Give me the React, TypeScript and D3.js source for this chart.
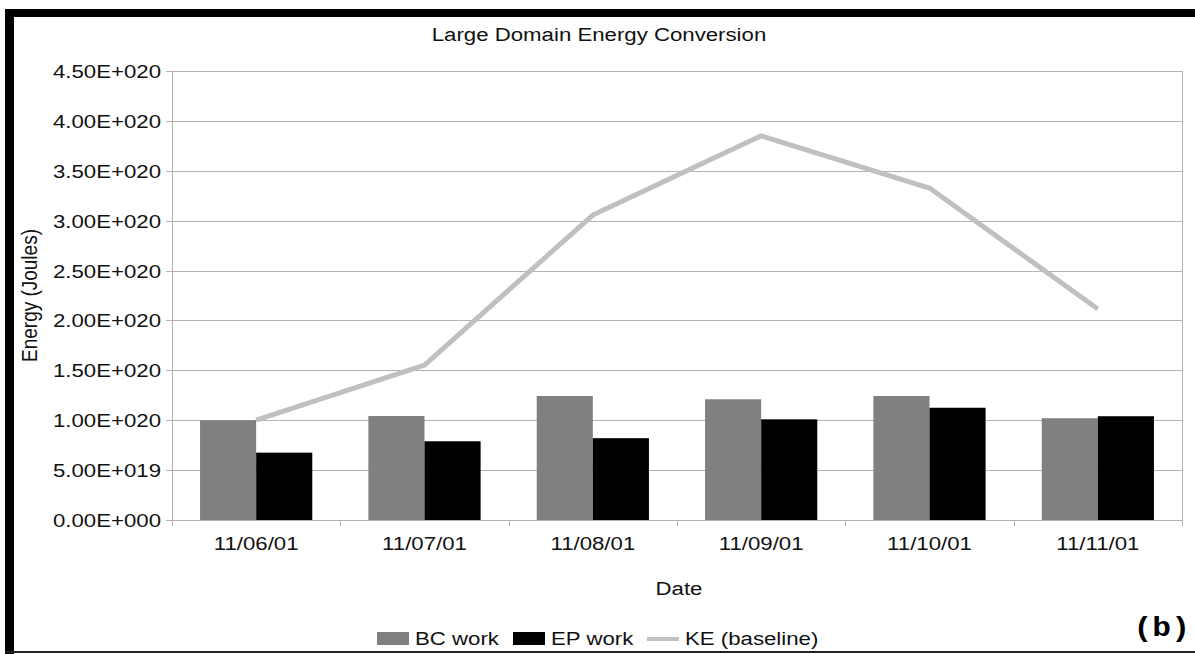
import React, { useRef, useEffect } from 'react';
import * as d3 from 'd3';

// chart data
const dates = ['11/06/01', '11/07/01', '11/08/01', '11/09/01', '11/10/01', '11/11/01'];
const bcWork = [1.0e20, 1.042e20, 1.243e20, 1.21e20, 1.243e20, 1.02e20];
const epWork = [0.675e20, 0.789e20, 0.82e20, 1.009e20, 1.125e20, 1.04e20];
const keBaseline = [1.0e20, 1.553e20, 3.056e20, 3.85e20, 3.327e20, 2.115e20];
const seriesNames = ['BC work', 'EP work', 'KE (baseline)'];
const yTicks = [0, 0.5e20, 1e20, 1.5e20, 2e20, 2.5e20, 3e20, 3.5e20, 4e20, 4.5e20];

const WIDTH = 1195;
const HEIGHT = 654;
const FONT = '"Liberation Sans", Arial, sans-serif';
const SX = 1.17; // the reference text is stretched sideways

// 4.50E+020 style
const sciFormat = (v: number) => {
    const [m, e] = v.toExponential(2).split('e');
    const sign = e[0] === '-' ? '-' : '+';
    const digits = e.replace(/[+-]/, '').padStart(3, '0');
    return `${m}E${sign}${digits}`;
};

export default function App() {
    const ref = useRef<SVGSVGElement>(null);

    useEffect(() => {
        const svg = d3.select(ref.current);
        svg.selectAll('*').remove();

        const left = 172, right = 1182, top = 71, bottom = 520;

        const x = d3.scaleBand<string>()
            .domain(dates)
            .range([left, right])
            .paddingInner(1 / 3)
            .paddingOuter(1 / 6);
        const xSeries = d3.scaleBand<string>()
            .domain(['bc', 'ep'])
            .range([0, x.bandwidth()]);
        const y = d3.scaleLinear()
            .domain([0, 4.5e20])
            .range([bottom, top]);

        const stretchedText = (g: any, tx: number, ty: number, txt: string, size: number, anchor: string) =>
            g.append('text')
                .attr('transform', `translate(${tx},${ty}) scale(${SX},1)`)
                .attr('text-anchor', anchor)
                .style('font-family', FONT)
                .style('font-size', size + 'px')
                .style('fill', '#111')
                .text(txt);

        // frame around the whole picture
        svg.append('rect').attr('x', 0).attr('y', 0).attr('width', WIDTH).attr('height', HEIGHT).attr('fill', '#fff');
        svg.append('rect').attr('x', 5).attr('y', 9).attr('width', WIDTH - 5).attr('height', 8).attr('fill', '#000');
        svg.append('rect').attr('x', 5).attr('y', 9).attr('width', 9).attr('height', HEIGHT - 9).attr('fill', '#000');
        svg.append('rect').attr('x', 5).attr('y', 651).attr('width', WIDTH - 5).attr('height', 2).attr('fill', '#222');

        // grid lines
        svg.append('g')
            .selectAll('line')
            .data(yTicks)
            .enter()
            .append('line')
            .attr('x1', left - 6)
            .attr('x2', right)
            .attr('y1', d => Math.round(y(d)) + 0.5)
            .attr('y2', d => Math.round(y(d)) + 0.5)
            .attr('stroke', '#b3b3b3')
            .attr('stroke-width', 1);

        // y tick labels
        const yLabels = svg.append('g');
        yTicks.forEach(t => stretchedText(yLabels, 161, y(t) + 7, sciFormat(t), 19, 'end'));

        // plot frame: left, right
        svg.append('line').attr('x1', left + 0.5).attr('x2', left + 0.5).attr('y1', top).attr('y2', bottom + 6)
            .attr('stroke', '#b3b3b3');
        svg.append('line').attr('x1', right + 0.5).attr('x2', right + 0.5).attr('y1', top).attr('y2', bottom + 6)
            .attr('stroke', '#b3b3b3');

        // x tick marks at the category boundaries
        svg.append('g')
            .selectAll('line')
            .data(d3.range(dates.length + 1))
            .enter()
            .append('line')
            .attr('x1', i => Math.round(left + i * x.step()) + 0.5)
            .attr('x2', i => Math.round(left + i * x.step()) + 0.5)
            .attr('y1', bottom)
            .attr('y2', bottom + 6)
            .attr('stroke', '#b3b3b3');

        // bars
        const groups = svg.append('g')
            .selectAll('g')
            .data(dates)
            .enter()
            .append('g')
            .attr('transform', d => `translate(${x(d)},0)`);

        groups.append('rect')
            .attr('x', xSeries('bc')!)
            .attr('y', (d, i) => y(bcWork[i]))
            .attr('width', xSeries.bandwidth())
            .attr('height', (d, i) => bottom - y(bcWork[i]))
            .attr('fill', '#808080');

        groups.append('rect')
            .attr('x', xSeries('ep')!)
            .attr('y', (d, i) => y(epWork[i]))
            .attr('width', xSeries.bandwidth())
            .attr('height', (d, i) => bottom - y(epWork[i]))
            .attr('fill', '#000');

        // KE line through the category centres
        const line = d3.line<number>()
            .x((d, i) => x(dates[i])! + x.bandwidth() / 2)
            .y(d => y(d));
        svg.append('path')
            .datum(keBaseline)
            .attr('d', line)
            .attr('fill', 'none')
            .attr('stroke', '#c0c0c0')
            .attr('stroke-width', 5)
            .attr('stroke-linejoin', 'round');

        // x labels
        const xLabels = svg.append('g');
        dates.forEach(d => stretchedText(xLabels, x(d)! + x.bandwidth() / 2, 550, d, 19, 'middle'));

        // titles
        stretchedText(svg, 599, 41, 'Large Domain Energy Conversion', 19, 'middle');
        stretchedText(svg, (left + right) / 2 + 2, 595, 'Date', 19, 'middle');
        svg.append('text')
            .attr('transform', `translate(37,${(top + bottom) / 2}) scale(${SX},1) rotate(-90)`)
            .attr('text-anchor', 'middle')
            .style('font-family', FONT)
            .style('font-size', '19px')
            .style('fill', '#111')
            .text('Energy (Joules)');

        // legend
        const legendX = [377, 513, 647];
        const legend = svg.append('g');
        legend.append('rect').attr('x', legendX[0]).attr('y', 632).attr('width', 32).attr('height', 13).attr('fill', '#808080');
        legend.append('rect').attr('x', legendX[1]).attr('y', 632).attr('width', 32).attr('height', 13).attr('fill', '#000');
        legend.append('rect').attr('x', legendX[2]).attr('y', 637).attr('width', 32).attr('height', 4).attr('fill', '#c0c0c0');
        seriesNames.forEach((s, i) => stretchedText(legend, legendX[i] + 38, 645, s, 19, 'start'));

        // panel label
        svg.append('text')
            .attr('transform', `translate(1190,636) scale(1.12,1)`)
            .attr('text-anchor', 'end')
            .style('font-family', '"Liberation Mono", "Courier New", monospace')
            .style('font-weight', 'bold')
            .style('font-size', '28px')
            .style('fill', '#000')
            .text('(b)');
    }, []);

    return (
        <div>
            <svg ref={ref} width={WIDTH} height={HEIGHT}
                style={{ position: 'absolute', left: 0, top: 0, display: 'block' }} />
        </div>
    );
}
